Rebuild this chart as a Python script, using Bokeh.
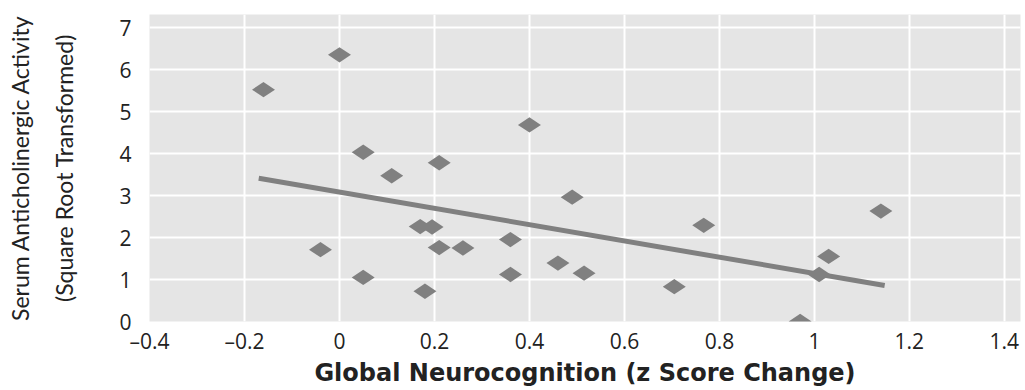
import math
from bokeh.plotting import figure
from bokeh.models import LinearAxis, FixedTicker, Range1d, ColumnDataSource
from bokeh.embed import file_html
from bokeh.resources import INLINE

# Data
change_z = [-0.16, 0.00, -0.04, 0.05, 0.05, 0.11, 0.21, 0.17, 0.195, 0.21, 0.26,
            0.18, 0.40, 0.36, 0.36, 0.46, 0.515, 0.49, 0.705, 0.767, 0.97, 1.01,
            1.03, 1.14]
serum_sqrt = [5.52, 6.35, 1.71, 4.03, 1.05, 3.47, 3.78, 2.26, 2.25, 1.76, 1.75,
              0.72, 4.68, 1.95, 1.12, 1.39, 1.15, 2.96, 0.83, 2.29, 0.0, 1.12,
              1.55, 2.63]
fit_x = [-0.17, 1.148]
fit_y = [3.41, 0.857]
x_ticks = [-0.4, -0.2, 0, 0.2, 0.4, 0.6, 0.8, 1.0, 1.2, 1.4]
x_tick_labels = ["\u20130.4", "\u20130.2", "0", "0.2", "0.4", "0.6", "0.8", "1", "1.2", "1.4"]
y_ticks = [0, 1, 2, 3, 4, 5, 6, 7]

GREY = "#808080"

p = figure(width=1025, height=390, output_backend="svg", toolbar_location=None,
           x_range=Range1d(-0.4, 1.434), y_range=Range1d(0, 7.31),
           min_border_left=149, min_border_right=5, min_border_top=14,
           min_border_bottom=69)
p.background_fill_color = "#e5e5e5"
p.border_fill_color = "white"
p.outline_line_color = None

src = ColumnDataSource(dict(x=change_z, y=serum_sqrt))
p.line(fit_x, fit_y, line_color=GREY, line_width=5)
p.scatter("x", "y", source=src, marker="diamond", size=23, angle=math.pi / 2,
          fill_color=GREY, line_color=None)

# grids
for g in (p.xgrid[0], p.ygrid[0]):
    g.grid_line_color = "white"
    g.grid_line_width = 2
p.xgrid[0].ticker = FixedTicker(ticks=x_ticks)
p.ygrid[0].ticker = FixedTicker(ticks=y_ticks)

# x axis
xa = p.xaxis[0]
xa.ticker = FixedTicker(ticks=x_ticks)
xa.major_label_overrides = {t: l for t, l in zip(x_ticks, x_tick_labels)}
xa.axis_line_color = None
xa.major_tick_line_color = None
xa.minor_tick_line_color = None
xa.major_tick_out = 0
xa.major_tick_in = 0
xa.major_label_standoff = 5
xa.major_label_text_font = "Open Sans"
xa.major_label_text_font_size = "21px"
xa.major_label_text_color = "#222222"
xa.axis_label = "Global Neurocognition (z Score Change)"
xa.axis_label_text_font = "DejaVu Sans"
xa.axis_label_text_font_style = "bold"
xa.axis_label_text_font_size = "24px"
xa.axis_label_text_color = "#222222"
xa.axis_label_standoff = 1

# y axis (inner line of the label)
ya = p.yaxis[0]
ya.ticker = FixedTicker(ticks=y_ticks)
ya.axis_line_color = None
ya.major_tick_line_color = None
ya.minor_tick_line_color = None
ya.major_tick_out = 0
ya.major_tick_in = 0
ya.major_label_standoff = 18
ya.major_label_text_font = "Open Sans"
ya.major_label_text_font_size = "21px"
ya.major_label_text_color = "#222222"
ya.axis_label = "(Square Root Transformed)"
ya.axis_label_text_font = "Lato"
ya.axis_label_text_font_style = "normal"
ya.axis_label_text_font_size = "23px"
ya.axis_label_text_color = "#222222"
ya.axis_label_standoff = 38

# outer line of the y label
ya2 = LinearAxis(ticker=FixedTicker(ticks=[]), axis_label="Serum Anticholinergic Activity")
ya2.axis_line_color = None
ya2.major_tick_line_color = None
ya2.minor_tick_line_color = None
ya2.major_tick_out = 0
ya2.major_tick_in = 0
ya2.major_label_standoff = 0
ya2.axis_label_standoff = 14
ya2.axis_label_text_font = "Lato"
ya2.axis_label_text_font_style = "normal"
ya2.axis_label_text_font_size = "23px"
ya2.axis_label_text_color = "#222222"
p.add_layout(ya2, "left")

open("out.html", "w").write(file_html(p, INLINE))
